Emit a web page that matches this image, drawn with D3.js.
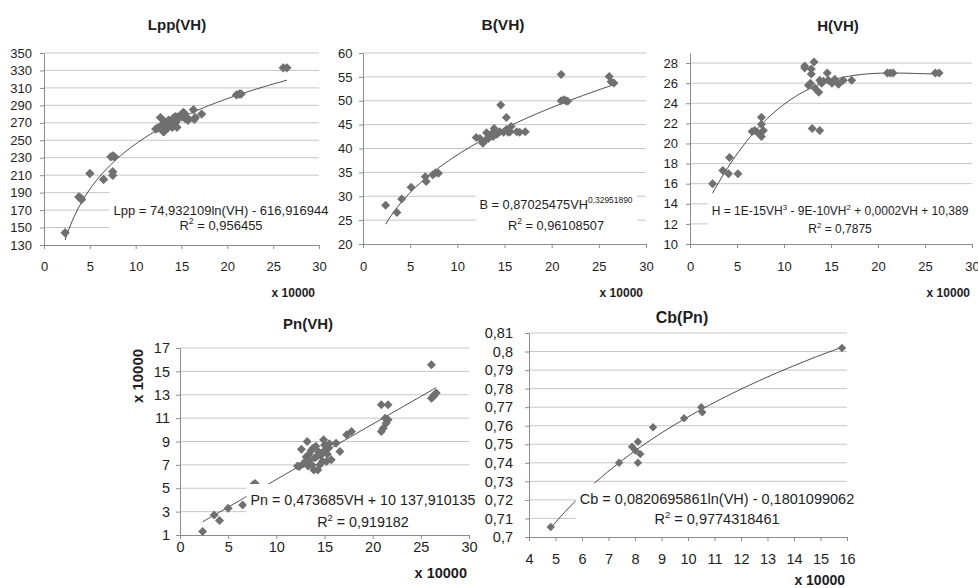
<!DOCTYPE html>
<html>
<head>
<meta charset="utf-8">
<script src="https://cdn.jsdelivr.net/npm/d3@7"></script>
<style>
  body { margin: 0; background: #fff; }
  svg { font-family: "Liberation Sans", Arial, sans-serif; }
</style>
</head>
<body>
<svg id="chart" width="978" height="588"></svg>
<script>
// values, VH and Pn in units of 10000
const lppVH  = [2.3, 3.8, 4.0, 4.1, 5.0, 6.5, 7.3, 7.5, 7.7, 7.5, 7.5, 12.2, 12.4, 12.7, 12.9, 13.0, 13.1, 13.2, 13.3, 13.5, 13.6, 13.7, 13.9, 14.0, 14.1, 14.3, 14.4, 14.5, 14.6, 14.8, 15.0, 15.2, 15.3, 15.4, 15.6, 15.7, 16.3, 16.4, 16.5, 17.2, 21.0, 21.3, 21.5, 26.1, 26.5];
const lppVal = [144, 185, 184, 182, 212, 205, 231, 232, 231, 210, 214, 263, 264, 276, 268, 260, 260, 271, 267, 264, 273, 271, 268, 265, 275, 277, 271, 265, 277, 277, 277, 282, 281, 275, 276, 273, 285, 274, 276, 280, 302, 303, 303, 333, 333];

const bVH  = [2.4, 3.6, 4.1, 5.1, 6.6, 6.7, 7.4, 7.7, 8.0, 12.0, 12.4, 12.7, 13.0, 13.1, 13.3, 13.4, 13.6, 13.8, 13.9, 14.2, 14.5, 14.6, 14.9, 15.2, 15.2, 15.4, 15.6, 15.7, 16.3, 16.6, 17.2, 21.0, 21.0, 21.3, 21.5, 21.7, 26.1, 26.3, 26.6];
const bVal = [28.1, 26.6, 29.4, 31.9, 34.1, 33.1, 34.5, 34.9, 34.8, 42.3, 42.1, 41.1, 41.8, 43.3, 42.1, 42.6, 43.0, 42.5, 44.2, 43.0, 43.5, 49.1, 43.4, 44.0, 46.5, 43.4, 43.5, 44.6, 43.5, 43.4, 43.5, 55.5, 50.0, 50.2, 50.0, 49.9, 55.1, 54.0, 53.7];

const hVH  = [2.4, 3.5, 4.1, 4.2, 5.1, 6.6, 6.9, 7.3, 7.6, 7.6, 7.6, 7.8, 12.2, 12.2, 12.6, 12.8, 12.9, 12.9, 13.0, 13.2, 13.3, 13.7, 13.8, 13.8, 14.0, 14.2, 14.6, 14.7, 15.1, 15.4, 15.8, 16.3, 17.2, 21.0, 21.3, 21.6, 26.1, 26.5];
const hVal = [16.0, 17.3, 17.0, 18.6, 17.0, 21.2, 21.3, 21.0, 22.6, 21.9, 20.7, 21.3, 27.7, 27.5, 25.8, 26.0, 27.4, 26.9, 21.5, 28.1, 25.5, 25.1, 26.3, 21.3, 26.0, 26.2, 27.0, 26.3, 26.0, 26.4, 25.9, 26.3, 26.3, 27.0, 27.0, 27.0, 27.0, 27.0];

const pnVH  = [2.35, 3.55, 4.1, 5.0, 6.5, 7.6, 7.8, 12.2, 12.4, 12.6, 12.8, 13.0, 13.1, 13.2, 13.3, 13.4, 13.5, 13.6, 13.7, 13.8, 13.9, 14.0, 14.1, 14.2, 14.3, 14.4, 14.5, 14.6, 14.7, 14.8, 14.9, 15.0, 15.1, 15.2, 15.3, 15.4, 15.5, 15.7, 16.2, 16.6, 17.3, 17.8, 20.9, 21.6, 20.9, 21.1, 21.3, 21.4, 21.6, 26.1, 26.1, 26.3, 26.4, 26.6];
const pnVal = [1.29, 2.71, 2.23, 3.29, 3.57, 5.3, 5.4, 6.9, 6.86, 8.34, 7.1, 7.29, 7.7, 9.0, 6.9, 7.9, 7.43, 8.2, 7.0, 8.43, 6.57, 7.6, 8.6, 7.71, 6.57, 8.1, 7.0, 7.8, 8.0, 7.3, 9.14, 8.71, 8.3, 7.29, 7.9, 8.43, 8.8, 7.43, 8.86, 8.14, 9.57, 9.86, 12.14, 12.14, 9.86, 10.14, 11.0, 10.57, 10.86, 15.57, 12.7, 12.86, 13.0, 13.14];

const cbPn  = [4.82, 7.40, 7.89, 8.02, 8.11, 8.11, 8.20, 8.68, 9.85, 10.50, 10.54, 15.81];
const cbVal = [0.7054, 0.740, 0.7487, 0.7466, 0.7514, 0.740, 0.7447, 0.7592, 0.764, 0.770, 0.7673, 0.8019];

// tick values
const vhTicks  = [0, 5, 10, 15, 20, 25, 30];
const pnTicks  = [4, 5, 6, 7, 8, 9, 10, 11, 12, 13, 14, 15, 16];
const lppTicks = [130, 150, 170, 190, 210, 230, 250, 270, 290, 310, 330, 350];
const bTicks   = [20, 25, 30, 35, 40, 45, 50, 55, 60];
const hTicks   = [10, 12, 14, 16, 18, 20, 22, 24, 26, 28];
const pnYTicks = [1, 3, 5, 7, 9, 11, 13, 15, 17];
const cbTicks  = [0.70, 0.71, 0.72, 0.73, 0.74, 0.75, 0.76, 0.77, 0.78, 0.79, 0.80, 0.81];

// trend line coefficients as printed on the chart
const lppCoef = [74.932109, -616.916944];
const bCoef   = [0.87025475, 0.32951890];
const pnCoef  = [0.473685, 10137.910135];
const cbCoef  = [0.0820695861, -0.1801099062];

// equation labels, [text, isSuperscript]
const lppEq = [["Lpp = 74,932109ln(VH) - 616,916944", false]];
const bEq   = [["B = 0,87025475VH", false], ["0,32951890", true]];
const hEq   = [["H = 1E-15VH", false], ["3", true], [" - 9E-10VH", false], ["2", true], [" + 0,0002VH + 10,389", false]];
const pnEq  = [["Pn = 0,473685VH + 10 137,910135", false]];
const cbEq  = [["Cb = 0,0820695861ln(VH) - 0,1801099062", false]];
const r2Vals = ["0,956455", "0,96108507", "0,7875", "0,919182", "0,9774318461"];

const fmt = d3.formatLocale({decimal: ",", thousands: " ", grouping: [3], currency: ["", ""]}).format("~r");

// least squares polynomial, for the H(VH) trend
function polyFit(xs, ys, deg) {
  const n = deg + 1;
  const A = Array.from({length: n}, () => new Array(n + 1).fill(0));
  xs.forEach((xv, k) => {
    for (let i = 0; i < n; i++) {
      for (let j = 0; j < n; j++) A[i][j] += Math.pow(xv, i + j);
      A[i][n] += ys[k] * Math.pow(xv, i);
    }
  });
  for (let c = 0; c < n; c++) {
    let p = c;
    for (let r = c + 1; r < n; r++) if (Math.abs(A[r][c]) > Math.abs(A[p][c])) p = r;
    [A[c], A[p]] = [A[p], A[c]];
    for (let r = 0; r < n; r++) {
      if (r === c) continue;
      const f = A[r][c] / A[c][c];
      for (let k = c; k <= n; k++) A[r][k] -= f * A[c][k];
    }
  }
  return A.map((row, i) => row[n] / row[i]);
}
const hCoef = polyFit(hVH, hVal, 3);

const diamond = {
  draw(ctx, size) {
    const r = Math.sqrt(size / 2);
    ctx.moveTo(0, -r); ctx.lineTo(r, 0); ctx.lineTo(0, r); ctx.lineTo(-r, 0); ctx.closePath();
  }
};

const panels = [
  { title: "Lpp(VH)", xs: lppVH, ys: lppVal, xDomain: [0, 30], yDomain: [130, 350], xTicks: vhTicks, yTicks: lppTicks,
    left: 44, right: 319, top: 53, bottom: 245, fs: 13, titleFs: 15, titleX: 177, titleY: 29.5,
    xPad: 13, yPad: 8, xLab: [315, 296.5], xLabFs: 12,
    trend: v => lppCoef[0] * Math.log(v * 1e4) + lppCoef[1],
    eq: lppEq, r2: r2Vals[0], eqFs: 13, eqX: 221, eqY: [214.5, 229.5], padTop: 12, r: 4.7 },
  { title: "B(VH)", xs: bVH, ys: bVal, xDomain: [0, 30], yDomain: [20, 60], xTicks: vhTicks, yTicks: bTicks,
    left: 363, right: 646, top: 53, bottom: 244, fs: 13, titleFs: 15.5, titleX: 503, titleY: 29.5,
    xPad: 14, yPad: 6.5, xLab: [643, 296.5], xLabFs: 12,
    trend: v => bCoef[0] * Math.pow(v * 1e4, bCoef[1]),
    eq: bEq, r2: r2Vals[1], eqFs: 12.8, eqX: 556, eqY: [208.5, 229.5], padTop: 4, r: 4.5 },
  { title: "H(VH)", xs: hVH, ys: hVal, xDomain: [0, 30], yDomain: [10, 29], xTicks: vhTicks, yTicks: hTicks,
    left: 690, right: 972, top: 53, bottom: 244, fs: 13, titleFs: 15, titleX: 838, titleY: 30.5,
    xPad: 14, yPad: 8, xLab: [970, 296.5], xLabFs: 12,
    trend: v => hCoef[0] + hCoef[1] * v + hCoef[2] * v * v + hCoef[3] * v * v * v,
    eq: hEq, r2: r2Vals[2], eqFs: 12, eqX: 840, eqY: [214.5, 232.5], padTop: 4, r: 4.5 },
  { title: "Pn(VH)", xs: pnVH, ys: pnVal, xDomain: [0, 30], yDomain: [1, 17], xTicks: vhTicks, yTicks: pnYTicks,
    left: 180, right: 469, top: 348, bottom: 535, fs: 14.5, titleFs: 15, titleX: 308, titleY: 329,
    xPad: 3, yPad: 6, xLab: [467, 578], xLabFs: 14.5, yLab: [142.5, 376],
    trend: v => (pnCoef[0] * v * 1e4 + pnCoef[1]) / 1e4,
    eq: pnEq, r2: r2Vals[3], eqFs: 14.3, eqX: 363, eqY: [505, 527], padTop: 8, r: 4.5 },
  { title: "Cb(Pn)", xs: cbPn, ys: cbVal, xDomain: [4, 16], yDomain: [0.70, 0.81], xTicks: pnTicks, yTicks: cbTicks,
    left: 529, right: 847, top: 333, bottom: 537, fs: 14.5, titleFs: 16, titleX: 682, titleY: 322.5,
    xPad: 12.5, yPad: 12, xLab: [845, 584.5], xLabFs: 14,
    trend: v => cbCoef[0] * Math.log(v * 1e4) + cbCoef[1],
    eq: cbEq, r2: r2Vals[4], eqFs: 14.5, eqX: 717, eqY: [503.5, 523.5], padTop: 7, r: 4.2 }
];

const svg = d3.select("#chart");

function drawPanel(p) {
  const g = svg.append("g");
  const x = d3.scaleLinear().domain(p.xDomain).range([p.left, p.right]);
  const y = d3.scaleLinear().domain(p.yDomain).range([p.bottom, p.top]);

  // horizontal gridlines
  g.append("g").selectAll("line")
    .data(p.yTicks.slice(1))
    .join("line")
      .attr("x1", p.left).attr("x2", p.right)
      .attr("y1", d => y(d)).attr("y2", d => y(d))
      .attr("stroke", "#c6c6c6").attr("stroke-width", 1);

  const xAxis = d3.axisBottom(x).tickValues(p.xTicks).tickFormat(fmt)
                  .tickSize(4).tickSizeOuter(0).tickPadding(p.xPad);
  const yAxis = d3.axisLeft(y).tickValues(p.yTicks).tickFormat(fmt)
                  .tickSize(4).tickSizeOuter(0).tickPadding(p.yPad);

  [[xAxis, `translate(0,${p.bottom})`], [yAxis, `translate(${p.left},0)`]].forEach(([ax, tr]) => {
    const a = g.append("g").attr("transform", tr).call(ax);
    a.attr("font-family", null).attr("font-size", p.fs);
    a.selectAll("path, line").attr("stroke", "#8c8c8c");
    a.selectAll("text").attr("fill", "#1e1e1e");
  });

  // trend line over the data range
  const ext = d3.extent(p.xs);
  const steps = d3.range(0, 121).map(i => ext[0] + (ext[1] - ext[0]) * i / 120);
  g.append("path")
    .datum(steps)
    .attr("fill", "none")
    .attr("stroke", "#333")
    .attr("stroke-width", 0.9)
    .attr("d", d3.line().x(d => x(d)).y(d => y(p.trend(d))));

  // points
  g.append("g").selectAll("path")
    .data(d3.zip(p.xs, p.ys))
    .join("path")
      .attr("transform", d => `translate(${x(d[0])},${y(d[1])})`)
      .attr("d", d3.symbol().type(diamond).size(2 * p.r * p.r))
      .attr("fill", "#707070");

  // equation label with white box
  const lab = g.append("g");
  const box = lab.append("rect").attr("fill", "#fff");
  const t1 = lab.append("text").attr("x", p.eqX).attr("y", p.eqY[0])
    .attr("text-anchor", "middle").attr("font-size", p.eqFs).attr("fill", "#1e1e1e");
  let raised = false;
  p.eq.forEach(([txt, sup]) => {
    const ts = t1.append("tspan").text(txt);
    if (sup && !raised) { ts.attr("font-size", "0.66em").attr("dy", "-0.6em"); raised = true; }
    else if (!sup && raised) { ts.attr("dy", "0.396em"); raised = false; }
  });
  const t2 = lab.append("text").attr("x", p.eqX).attr("y", p.eqY[1])
    .attr("text-anchor", "middle").attr("font-size", p.eqFs).attr("fill", "#1e1e1e");
  t2.append("tspan").text("R");
  t2.append("tspan").text("2").attr("font-size", "0.66em").attr("dy", "-0.6em");
  t2.append("tspan").text(" = " + p.r2).attr("dy", "0.396em");

  const b1 = t1.node().getBBox(), b2 = t2.node().getBBox();
  const bx0 = Math.min(b1.x, b2.x) - 4, bx1 = Math.max(b1.x + b1.width, b2.x + b2.width) + 4;
  const by0 = b1.y - p.padTop, by1 = b2.y + b2.height + 2;
  box.attr("x", bx0).attr("y", by0).attr("width", bx1 - bx0).attr("height", by1 - by0);

  // titles
  g.append("text").attr("x", p.titleX).attr("y", p.titleY)
    .attr("text-anchor", "middle").attr("font-weight", "bold")
    .attr("font-size", p.titleFs).attr("fill", "#1e1e1e").text(p.title);
  g.append("text").attr("x", p.xLab[0]).attr("y", p.xLab[1])
    .attr("text-anchor", "end").attr("font-weight", "bold")
    .attr("font-size", p.xLabFs).attr("fill", "#1e1e1e").text("x 10000");
  if (p.yLab) {
    g.append("text").attr("transform", `translate(${p.yLab[0]},${p.yLab[1]}) rotate(-90)`)
      .attr("text-anchor", "middle").attr("font-weight", "bold")
      .attr("font-size", 15).attr("fill", "#1e1e1e").text("x 10000");
  }
}

panels.forEach(drawPanel);
</script>
</body>
</html>
